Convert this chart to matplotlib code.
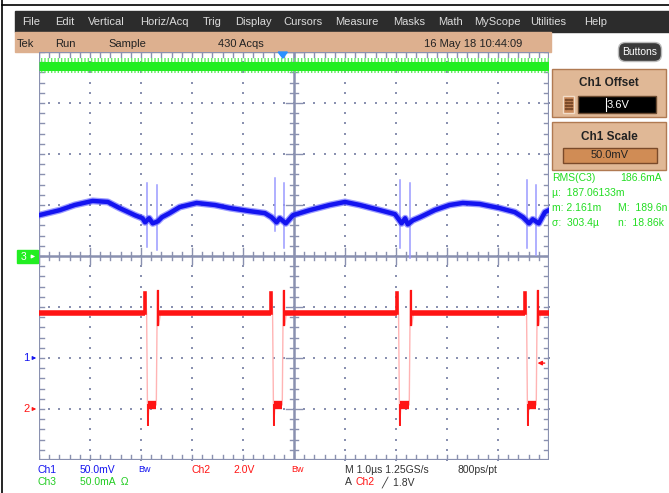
import matplotlib
matplotlib.use("Agg")
import matplotlib.pyplot as plt
from matplotlib.patches import Rectangle, FancyBboxPatch, Polygon
import numpy as np

# ---- scope settings ----
time_per_div = 1.0          # us/div
trigger_div = 4.78          # trigger position, divisions from left edge
ch1_scale, ch1_offset, ch1_pos = 0.05, 3.6, -2.0     # V/div, V, div
ch2_scale, ch2_pos = 2.0, -3.0                      # V/div, div
ch3_scale, ch3_pos = 50.0, 0.0                      # mA/div, div
trig_level = 1.8

# ---- Ch3 (green): current, flat with noise ----
ch3_t = [-4.78, 5.22]
ch3_ma = [186.6, 186.6]

# ---- Ch1 (blue): output ripple, volts ----
ch1_t = [-4.78, -4.37, -4.08, -3.73, -3.43, -3.20, -2.90, -2.75, -2.70, -2.62, -2.55,
         -2.45, -2.37, -2.22, -2.02, -1.69, -1.33, -1.04, -0.65, -0.35, -0.22, -0.12,
         -0.06, 0.06, 0.20, 0.53, 0.92, 1.22, 1.51, 1.90, 2.20, 2.33, 2.40, 2.45, 2.55,
         2.69, 2.98, 3.27, 3.53, 3.86, 4.25, 4.55, 4.71, 4.83, 4.90, 5.02, 5.14, 5.22]
ch1_v = [3.740, 3.745, 3.750, 3.754, 3.753, 3.747, 3.740, 3.737, 3.733, 3.737, 3.732,
         3.734, 3.738, 3.742, 3.748, 3.752, 3.750, 3.747, 3.744, 3.742, 3.738, 3.733,
         3.737, 3.732, 3.740, 3.745, 3.750, 3.753, 3.750, 3.745, 3.741, 3.732, 3.737,
         3.731, 3.735, 3.738, 3.745, 3.750, 3.752, 3.751, 3.747, 3.743, 3.738, 3.732,
         3.736, 3.732, 3.743, 3.745]
ch1_spike_t = [-2.67, -2.47, -0.16, 0.02, 2.29, 2.49, 4.78, 4.96]
ch1_spike_hi = [3.772, 3.770, 3.776, 3.772, 3.775, 3.772, 3.775, 3.770]
ch1_spike_lo = [3.709, 3.706, 3.725, 3.708, 3.708, 3.698, 3.708, 3.701]

# ---- Ch2 (red): switch node, volts ----
ch2_high, ch2_low = 3.76, 0.16
ch2_fall_t = [-2.67, -0.20, 2.27, 4.78]
ch2_rise_t = [-2.47, 0.00, 2.49, 4.98]
ch2_pre_peak = 4.55
ch2_rise_peak = 4.63
ch2_undershoot = -0.63

GRAT = "#8a91b0"
GREEN, BLUE, RED = "#22ee22", "#1414f0", "#ff1414"


def xdiv(t):
    return np.asarray(t) / time_per_div + trigger_div


fig = plt.figure(figsize=(6.69, 4.93), dpi=100)
fig.patch.set_facecolor("white")

# ---------- screen chrome in pixel coordinates ----------
ui = fig.add_axes([0, 0, 1, 1])
ui.set_xlim(0, 669)
ui.set_ylim(493, 0)
ui.axis("off")

font = ["Liberation Sans", "DejaVu Sans"]
ui.plot([2, 2], [0, 493], color="black", lw=1.2)
ui.plot([2, 669], [5, 5], color="black", lw=1.2)
ui.add_patch(Rectangle((15, 11), 654, 21, color="#2c2c2c"))
ui.add_patch(Rectangle((15, 32), 536, 20, color="#ddb08f"))

menu = ["File", "Edit", "Vertical", "Horiz/Acq", "Trig", "Display", "Cursors",
        "Measure", "Masks", "Math", "MyScope", "Utilities", "Help"]
menu_x = [22, 55, 88, 140, 203, 235, 283, 335, 393, 438, 474, 530, 584]
for label, x in zip(menu, menu_x):
    ui.text(x, 22, label, color="#dcdcdc", fontsize=8, va="center", family=font)

for label, x in [("Tek", 17), ("Run", 55), ("Sample", 108), ("430 Acqs", 218),
                 ("16 May 18 10:44:09", 424)]:
    ui.text(x, 44, label, color="#222222", fontsize=8, va="center", family=font)

# buttons pill
ui.add_patch(FancyBboxPatch((620, 44), 40, 16, boxstyle="round,pad=1.5,rounding_size=7",
                            fc="#3a3a3a", ec="#bbbbbb", lw=1))
ui.text(640, 52, "Buttons", color="white", fontsize=7.5, ha="center", va="center", family=font)

# Ch1 Offset panel
ui.add_patch(Rectangle((552, 69), 114, 48, fc="#e0b896", ec="#b07a52", lw=1))
ui.text(609, 83, "Ch1 Offset", color="#222222", fontsize=8.5, weight="bold",
        ha="center", va="center", family=font)
ui.add_patch(Rectangle((563, 96), 11, 17, fc="#c98a5c", ec="#f2dcc8", lw=1))
for gx in [566, 568.5, 571]:
    for gy in [99.5, 102.5, 105.5, 108.5]:
        ui.add_patch(Rectangle((gx - 0.6, gy - 0.6), 1.2, 1.2, color="#7a4a2a"))
ui.add_patch(Rectangle((578, 96), 78, 17, fc="black", ec="#6a4a30", lw=1))
ui.plot([606, 606], [98, 111], color="white", lw=0.8)
ui.text(607, 104.5, "3.6V", color="white", fontsize=8, va="center", family=font)

# Ch1 Scale panel
ui.add_patch(Rectangle((552, 122), 114, 48, fc="#e0b896", ec="#b07a52", lw=1))
ui.text(609, 137, "Ch1 Scale", color="#222222", fontsize=8.5, weight="bold",
        ha="center", va="center", family=font)
ui.add_patch(Rectangle((563, 148), 94, 15, fc="#d08c55", ec="#7a4a2a", lw=1))
ui.text(610, 155.5, "50.0mV", color="#222222", fontsize=8, ha="center", va="center", family=font)

# measurement readout
meas = [("RMS(C3)", 552, 178), ("186.6mA", 620, 178), ("\u00b5:  187.06133m", 552, 193),
        ("m: 2.161m", 552, 208), ("M:  189.6n", 618, 208),
        ("\u03c3:  303.4\u00b5", 552, 223), ("n:  18.86k", 618, 223)]
for label, x, y in meas:
    ui.text(x, y, label, color="#22dd22", fontsize=7.5, va="center", family=font)

# bottom readout
bottom = [("Ch1", 38, 470, BLUE), ("50.0mV", 80, 470, BLUE), ("Bw", 138, 469, BLUE),
          ("Ch2", 192, 470, RED), ("2.0V", 233, 470, RED), ("Bw", 291, 469, RED),
          ("M 1.0\u00b5s 1.25GS/s", 345, 470, "#333333"), ("800ps/pt", 458, 470, "#333333"),
          ("Ch3", 38, 482, "#22cc22"), ("50.0mA  \u03a9", 80, 482, "#22cc22"),
          ("A", 345, 482, "#333333"), ("Ch2", 356, 482, RED), ("\u2571  1.8V", 381, 482, "#333333")]
for label, x, y, c in bottom:
    size = 6.5 if label == "Bw" else 7.5
    ui.text(x, y, label, color=c, fontsize=size, va="center", family=font)

# channel ground markers
ui.add_patch(Rectangle((17, 250), 21, 13, color="#22ee22"))
ui.text(21, 256.5, "3", color="white", fontsize=7.5, va="center", family=font)
ui.annotate("", xy=(38, 256.5), xytext=(29, 256.5),
            arrowprops=dict(arrowstyle="-|>", color="white", lw=0.8, mutation_scale=5))
for label, y, c in [("1", 358, BLUE), ("2", 409, RED)]:
    ui.text(23, y, label, color=c, fontsize=8, va="center", family=font)
    ui.annotate("", xy=(39, y), xytext=(30, y),
                arrowprops=dict(arrowstyle="-|>", color=c, lw=0.8, mutation_scale=5))

# ---------- graticule + traces in division units ----------
ax = fig.add_axes([39 / 669, 1 - 460 / 493, 510 / 669, 408 / 493])
ax.set_xlim(0, 10)
ax.set_ylim(-4, 4)
ax.axis("off")

minor = np.round(np.arange(0, 10.01, 0.2), 2)
minor_y = np.round(np.arange(-4, 4.01, 0.2), 2)
for i in range(1, 10):
    if i != 5:
        ax.scatter(np.full(len(minor_y), i), minor_y, s=1.2, marker="s", color=GRAT, lw=0)
for j in range(-3, 4):
    if j != 0:
        ax.scatter(minor, np.full(len(minor), j), s=1.2, marker="s", color=GRAT, lw=0)

tick_x = 0.09
tick_y = 0.09
for x in minor:
    ax.plot([x, x], [-4, -4 + tick_y], color=GRAT, lw=1)
    ax.plot([x, x], [4, 4 - tick_y], color=GRAT, lw=1)
    h = 0.16 if abs(x - round(x)) < 1e-6 else 0.08
    ax.plot([x, x], [-h, h], color=GRAT, lw=1)
for y in minor_y:
    ax.plot([0, tick_x], [y, y], color=GRAT, lw=1)
    ax.plot([10, 10 - tick_x], [y, y], color=GRAT, lw=1)
    w = 0.16 if abs(y - round(y)) < 1e-6 else 0.08
    ax.plot([5 - w, 5 + w], [y, y], color=GRAT, lw=1)
ax.plot([0, 10, 10, 0, 0], [-4, -4, 4, 4, -4], color=GRAT, lw=1.6)
ax.plot([5, 5], [-4, 4], color=GRAT, lw=1.8)
ax.plot([0, 10], [0, 0], color=GRAT, lw=1.8)

# Ch3 green: dense core plus a striated noise fringe
ch3_y = ch3_pos + np.asarray(ch3_ma) / ch3_scale
ax.fill_between(xdiv(ch3_t), ch3_y - 0.15, ch3_y + 0.15, facecolor="none",
                edgecolor="#66f066", hatch="|||||", lw=0, zorder=3)
ax.plot(xdiv(ch3_t), ch3_y, color=GREEN, lw=6.5, solid_capstyle="butt", zorder=3)

# Ch1 blue
def ch1_div(v):
    return ch1_pos + (np.asarray(v) - ch1_offset) / ch1_scale

for t, hi, lo in zip(ch1_spike_t, ch1_spike_hi, ch1_spike_lo):
    ax.plot([xdiv(t)] * 2, [ch1_div(lo), ch1_div(hi)], color="#9a9aff", lw=1.1, zorder=3)
ax.plot(xdiv(ch1_t), ch1_div(ch1_v), color="#5858ff", lw=5, zorder=4,
        solid_joinstyle="round", alpha=0.6)
ax.plot(xdiv(ch1_t), ch1_div(ch1_v), color=BLUE, lw=3.2, zorder=4,
        solid_joinstyle="round")

# Ch2 red
def ch2_div(v):
    return ch2_pos + np.asarray(v) / ch2_scale

edges = list(zip(ch2_fall_t, ch2_rise_t))
path_t, path_v = [-trigger_div * time_per_div], [ch2_high]
for f, r in edges:
    path_t += [f - 0.04, f - 0.02, f, f + 0.02, f + 0.05, r - 0.01, r + 0.01, r + 0.04, r + 0.07]
    path_v += [ch2_high, ch2_pre_peak, ch2_high, ch2_undershoot, ch2_low, ch2_low,
               ch2_rise_peak, 3.3, ch2_high]
path_t.append(10 * time_per_div - trigger_div * time_per_div)
path_v.append(ch2_high)
ax.plot(xdiv(path_t), ch2_div(path_v), color="#ffb4b4", lw=1, zorder=3)

prev = -trigger_div * time_per_div
for f, r in edges:
    ax.plot(xdiv([prev, f - 0.04]), ch2_div([ch2_high] * 2), color=RED, lw=4,
            solid_capstyle="butt", zorder=4)
    ax.plot(xdiv([f - 0.035] * 2), ch2_div([ch2_high, ch2_pre_peak]), color=RED, lw=2.6, zorder=4)
    ax.plot(xdiv([f + 0.03, r - 0.02]), ch2_div([ch2_low] * 2), color=RED, lw=6,
            solid_capstyle="butt", zorder=4)
    ax.plot(xdiv([f + 0.025] * 2), ch2_div([ch2_undershoot, ch2_low]), color=RED, lw=1.4, zorder=4)
    ax.plot(xdiv([r + 0.02] * 2), ch2_div([3.3, ch2_rise_peak]), color=RED, lw=1.6, zorder=4)
    prev = r + 0.05
ax.plot(xdiv([prev, 10 * time_per_div - trigger_div * time_per_div]),
        ch2_div([ch2_high] * 2), color=RED, lw=4, solid_capstyle="butt", zorder=4)

# trigger markers
ax.add_patch(Polygon([[trigger_div - 0.09, 4.0], [trigger_div + 0.09, 4.0], [trigger_div, 3.88]],
                     closed=True, color="#2a90ff", zorder=5, clip_on=False))
ty = ch2_div(trig_level)
ax.annotate("", xy=(9.72, ty), xytext=(9.97, ty),
            arrowprops=dict(arrowstyle="-|>", color=RED, lw=1, mutation_scale=6), zorder=5)

fig.savefig("out.png", dpi=100)
